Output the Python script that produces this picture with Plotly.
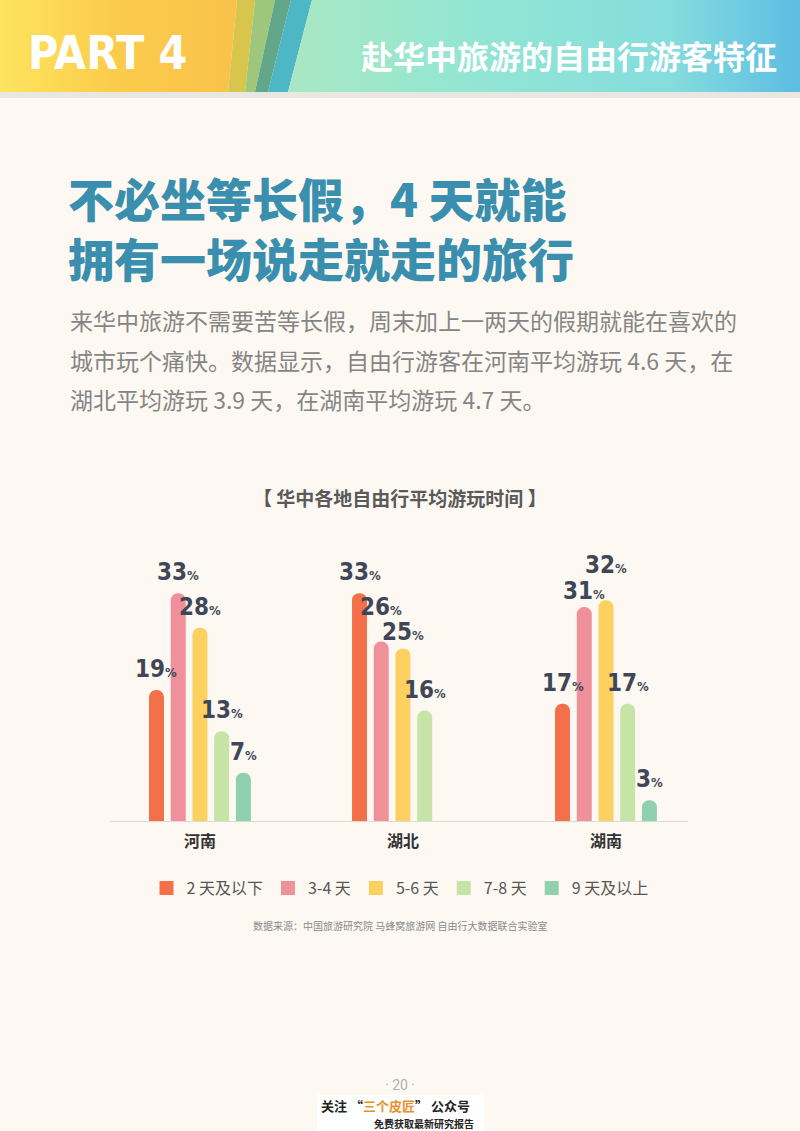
import plotly.graph_objects as go

# data
regions = ["河南", "湖北", "湖南"]
durations = ["2 天及以下", "3-4 天", "5-6 天", "7-8 天", "9 天及以上"]
share_2_or_less = [19, 33, 17]
share_3_4 = [33, 26, 31]
share_5_6 = [28, 25, 32]
share_7_8 = [13, 16, 17]
share_9_plus = [7, None, 3]

series = [share_2_or_less, share_3_4, share_5_6, share_7_8, share_9_plus]
colors = ["#f4704b", "#f0909a", "#fdd160", "#c6e4a6", "#8fd0ae"]

W, H = 800, 1131
CJK = "Noto Sans CJK SC"
NARROW = "DejaVu Sans Condensed, Liberation Sans Narrow, Roboto, sans-serif"
BG = "#fdf9f2"
BARGAP = 0.465


def px(x):
    return x / W


def py(y):
    return 1 - y / H


fig = go.Figure()

for name, vals, col in zip(durations, series, colors):
    fig.add_bar(x=regions, y=vals, name=name, marker_color=col,
                marker_line_width=0, hoverinfo="skip", showlegend=False)
    # square legend key (bars with rounded corners give round keys)
    fig.add_scatter(x=[None], y=[None], mode="markers", name=name,
                    marker=dict(symbol="square", size=14, color=col))

# header band drawn on an overlay axis in pixel units
HB = 92
fig.add_scatter(x=[0, 237, 228, 0], y=[0, 0, HB, HB], fill="toself", mode="lines",
                line_width=0, xaxis="x2", yaxis="y2", showlegend=False, hoverinfo="skip",
                fillgradient=dict(type="horizontal",
                                  colorscale=[[0, "#fde45e"], [0.5, "#fbcb4b"], [1, "#f9c24a"]]))
stripes = [
    ([237, 255, 245, 228], "#d8c64c"),
    ([255, 275, 255, 245], "#9fc77c"),
    ([275, 291, 268, 255], "#62a78a"),
    ([291, 312, 288, 268], "#4db7c6"),
]
for xs, col in stripes:
    fig.add_scatter(x=xs, y=[0, 0, HB, HB], fill="toself", mode="lines", line_width=0,
                    fillcolor=col, xaxis="x2", yaxis="y2", showlegend=False, hoverinfo="skip")
fig.add_scatter(x=[312, 800, 800, 288], y=[0, 0, HB, HB], fill="toself", mode="lines",
                line_width=0, xaxis="x2", yaxis="y2", showlegend=False, hoverinfo="skip",
                fillgradient=dict(type="horizontal",
                                  colorscale=[[0, "#a9e7c3"], [0.35, "#93e6d3"],
                                              [0.75, "#85dcdd"], [1, "#5cbde3"]]))

shapes = [
    dict(type="rect", xref="paper", yref="paper", x0=0, x1=1, y0=py(98), y1=py(HB),
         fillcolor="#e8e7e2", line_width=0, layer="below"),
    dict(type="rect", xref="paper", yref="paper", x0=px(317), x1=px(484), y0=0, y1=py(1095),
         fillcolor="#ffffff", line_width=0, layer="below"),
]

annotations = []


def note(text, x, y, size, color, xanchor="left", family=CJK, weight="normal", **kw):
    annotations.append(dict(text=text, x=px(x), y=py(y), xref="paper", yref="paper",
                            xanchor=xanchor, yanchor="middle", showarrow=False,
                            font=dict(family=family, size=size, color=color, weight=weight), **kw))


note("PART 4", 26, 53, 46, "#ffffff", family=NARROW, weight="bold")
note("赴华中旅游的自由行游客特征", 779, 55, 32, "#ffffff", xanchor="right", weight="bold")

note("不必坐等长假，4 天就能<br>拥有一场说走就走的旅行", 66, 227, 46, "#3a8eae",
     weight=900, align="left")

para = [
    "来华中旅游不需要苦等长假，周末加上一两天的假期就能在喜欢的",
    "城市玩个痛快。数据显示，自由行游客在河南平均游玩 4.6 天，在",
    "湖北平均游玩 3.9 天，在湖南平均游玩 4.7 天。",
]
for i, line in enumerate(para):
    note(line, 68, 320 + i * 39.5, 23, "#858585")

note("【 华中各地自由行平均游玩时间 】", 400, 497, 19, "#5a5a5a", xanchor="center", weight="bold")
note("数据来源：中国旅游研究院 马蜂窝旅游网 自由行大数据联合实验室", 400, 925, 10, "#8a8a8a",
     xanchor="center")
note("· 20 ·", 400, 1085, 14, "#b0b0b0", xanchor="center", family="Roboto, sans-serif")
note("关注 “<span style='color:#e8902a'>三个皮匠</span>” 公众号", 395, 1105, 13, "#222222",
     xanchor="center", weight="bold")
note("免费获取最新研究报告", 476, 1123, 10, "#222222", xanchor="right", weight="bold")

# value labels above bars; when two neighbouring bars are almost equal,
# lift the taller one's label so the two do not collide
slot = (1 - BARGAP) / len(series)
n = len(series)
for k, vals in enumerate(series):
    for i, v in enumerate(vals):
        if v is None:
            continue
        lift = 5
        for nb in (k - 1, k + 1):
            if 0 <= nb < n and series[nb][i] is not None:
                other = series[nb][i]
                if 0 < v - other <= 2:
                    lift = 19
                elif 0 < other - v <= 2:
                    lift = 0
        annotations.append(dict(
            x=i + (k - (n - 1) / 2) * slot, y=v, xref="x", yref="y",
            text=f"{v}<span style='font-size:13px'>%</span>",
            showarrow=False, xanchor="center", yanchor="bottom", yshift=lift,
            font=dict(family=NARROW, size=24, color="#3f4756", weight="bold")))

fig.update_layout(
    width=W, height=H,
    margin=dict(l=0, r=0, t=0, b=0),
    paper_bgcolor=BG, plot_bgcolor="rgba(0,0,0,0)",
    barmode="group", bargap=BARGAP, bargroupgap=0.31, barcornerradius=7,
    xaxis=dict(domain=[px(110), px(688)], range=[-0.443, 2.404], showline=True,
               linecolor="#dedbd5", linewidth=1, showgrid=False, zeroline=False, ticks="",
               tickfont=dict(family=CJK, size=16, color="#333333", weight="bold"),
               ticklabelstandoff=6, fixedrange=True),
    yaxis=dict(domain=[py(821), py(545)], range=[0, 40], visible=False, fixedrange=True),
    xaxis2=dict(domain=[0, 1], range=[0, W], anchor="y2", visible=False, fixedrange=True),
    yaxis2=dict(domain=[py(HB), 1], range=[HB, 0], anchor="x2", visible=False, fixedrange=True),
    legend=dict(orientation="h", x=0.5, xanchor="center", y=py(888), yanchor="middle",
                font=dict(family=CJK, size=16, color="#555555"), bgcolor="rgba(0,0,0,0)",
                itemclick=False, itemdoubleclick=False),
    shapes=shapes,
    annotations=annotations,
    showlegend=True,
)

fig.write_html("out.html", config={"displayModeBar": False},
               post_script="document.body.style.margin='0';")
